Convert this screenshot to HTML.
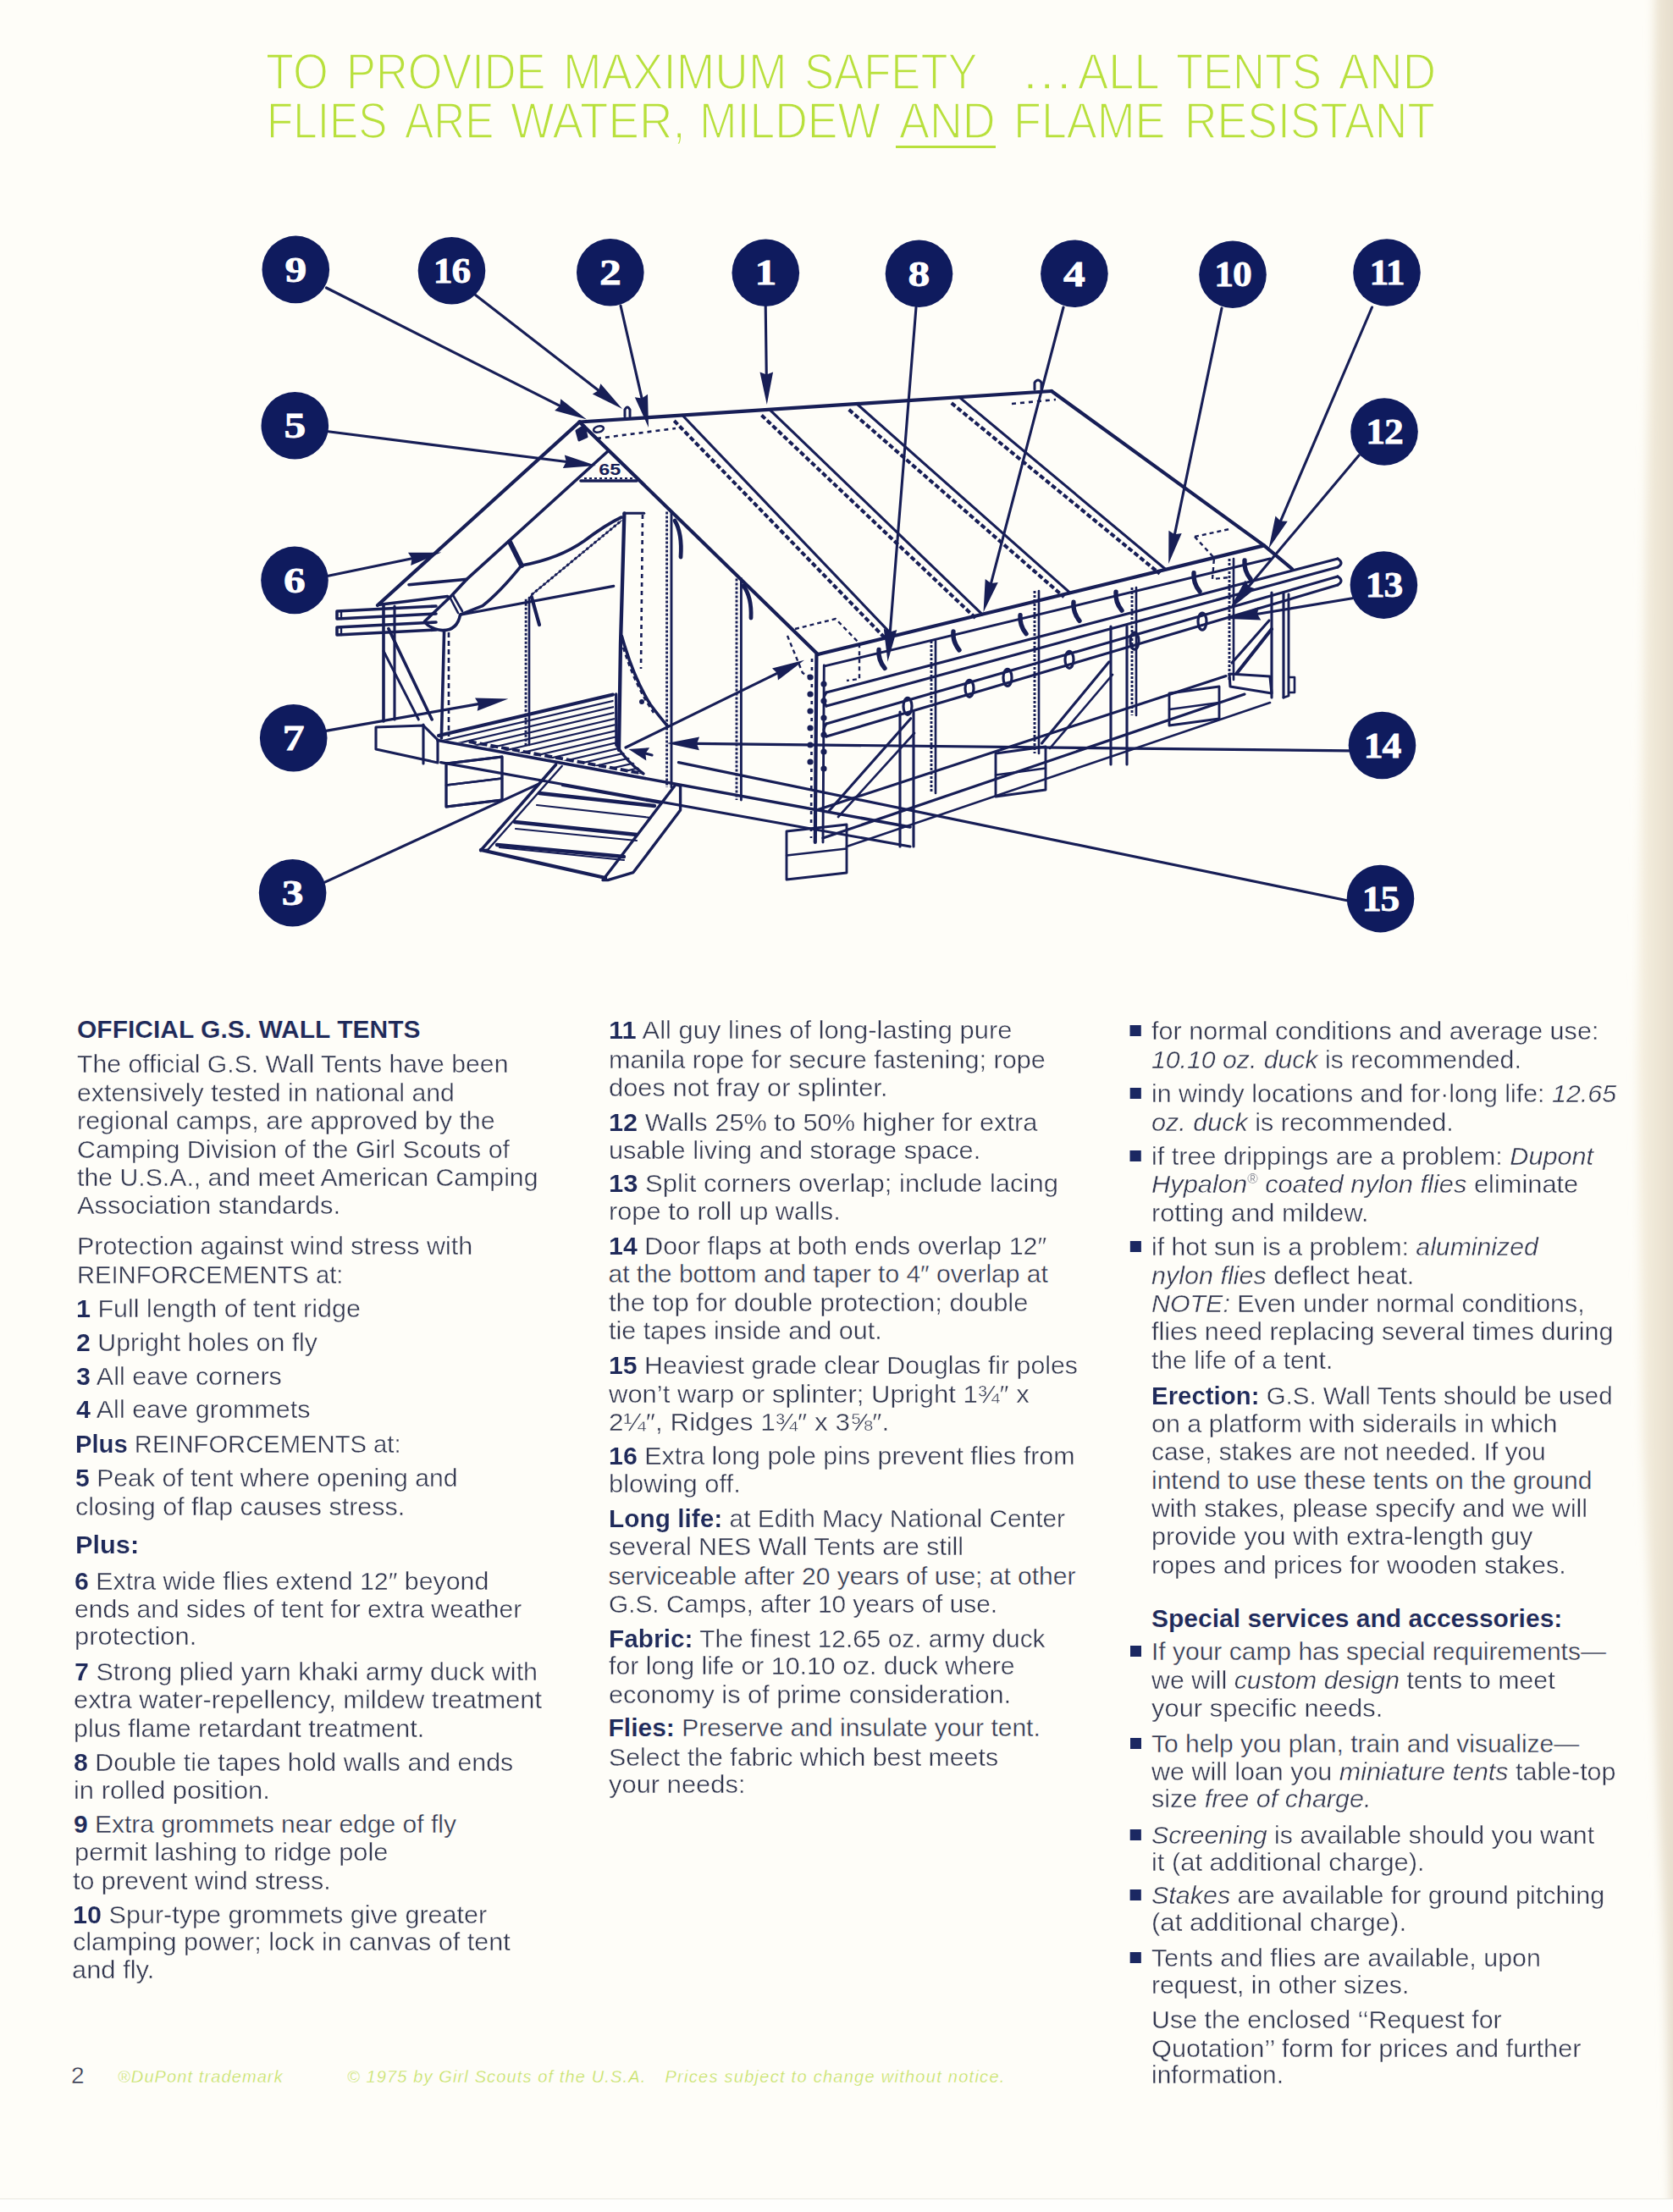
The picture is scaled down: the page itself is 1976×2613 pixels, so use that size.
<!DOCTYPE html>
<html><head><meta charset="utf-8"><style>
html,body{margin:0;padding:0;overflow:hidden}
body{width:1976px;height:2613px;background:#fefdf8;position:relative;overflow:hidden;font-family:"Liberation Sans",sans-serif}
.hw{position:absolute;font-size:58.5px;line-height:0;color:#b8e03c;-webkit-text-stroke:1.7px #fefdf8;paint-order:normal;transform-origin:0 0;white-space:pre}
.ln{position:absolute;transform-origin:0 0;font-size:30px;line-height:30px;color:#32374f;-webkit-text-stroke:0.4px #fefdf8;white-space:pre}
.ln b{color:#1f2a5a;-webkit-text-stroke:0.15px #fefdf8}
.bul{position:absolute;left:-25px;top:8px;width:13px;height:13px;background:#1b2862}
.fr{font-size:0.55em;vertical-align:0.35em}
sup{font-size:0.55em;line-height:0}
#ul{position:absolute;left:1058px;top:171.5px;width:118px;height:3px;background:#b8e03c}
#bot{position:absolute;left:0;top:2597px;width:1976px;height:16px;background:#fefefc;border-top:1.5px solid #e9e9e0}
.ft{position:absolute;font-style:italic;color:#c3e05e;font-size:20px;line-height:20px;white-space:pre;-webkit-text-stroke:0.35px #fefdf8}
svg{position:absolute;left:0;top:0}
</style></head><body>
<span class="hw" style="left:314.3px;top:84.5px;transform:scaleX(0.9207)">TO</span>
<span class="hw" style="left:409.4px;top:84.5px;transform:scaleX(0.8943)">PROVIDE</span>
<span class="hw" style="left:664.5px;top:84.5px;transform:scaleX(0.9354)">MAXIMUM</span>
<span class="hw" style="left:949.7px;top:84.5px;transform:scaleX(0.8992)">SAFETY</span>
<span class="hw" style="left:1206.9px;top:84.5px;transform:scaleX(1.2206)">...</span>
<span class="hw" style="left:1273.0px;top:84.5px;transform:scaleX(0.9283)">ALL</span>
<span class="hw" style="left:1389.3px;top:84.5px;transform:scaleX(0.8976)">TENTS</span>
<span class="hw" style="left:1580.7px;top:84.5px;transform:scaleX(0.9318)">AND</span>
<span class="hw" style="left:315.3px;top:143.0px;transform:scaleX(0.8758)">FLIES</span>
<span class="hw" style="left:477.8px;top:143.0px;transform:scaleX(0.8760)">ARE</span>
<span class="hw" style="left:603.3px;top:143.0px;transform:scaleX(0.9350)">WATER,</span>
<span class="hw" style="left:825.6px;top:143.0px;transform:scaleX(0.9147)">MILDEW</span>
<span class="hw" style="left:1062.4px;top:143.0px;transform:scaleX(0.9195)">AND</span>
<span class="hw" style="left:1196.8px;top:143.0px;transform:scaleX(0.9205)">FLAME</span>
<span class="hw" style="left:1399.0px;top:143.0px;transform:scaleX(0.9135)">RESISTANT</span>
<div id="ul"></div>
<svg width="1976" height="1200" viewBox="0 0 1976 1200">
<polyline points="684.5,498.5 1242.0,462.0" fill="none" stroke="#171e56" stroke-width="4.2" stroke-linejoin="round" stroke-linecap="round"/>
<polyline points="684.5,498.5 966.0,773.0" fill="none" stroke="#171e56" stroke-width="4.2" stroke-linejoin="round" stroke-linecap="round"/>
<polyline points="1242.0,462.0 1493.0,644.4 1526.0,672.0" fill="none" stroke="#171e56" stroke-width="4.2" stroke-linejoin="round" stroke-linecap="round"/>
<polyline points="966.0,773.0 1493.0,644.4" fill="none" stroke="#171e56" stroke-width="4.2" stroke-linejoin="round" stroke-linecap="round"/>
<polyline points="806.0,490.5 1055.0,751.3" fill="none" stroke="#171e56" stroke-width="3.12" stroke-linejoin="round" stroke-linecap="round"/>
<polyline points="796.3,497.0 1047.3,755.8" fill="none" stroke="#171e56" stroke-width="4.08" stroke-linejoin="round" stroke-linecap="butt" stroke-dasharray="6 3"/>
<polyline points="909.0,483.8 1160.0,725.7" fill="none" stroke="#171e56" stroke-width="3.12" stroke-linejoin="round" stroke-linecap="round"/>
<polyline points="899.5,490.5 1152.5,730.3" fill="none" stroke="#171e56" stroke-width="4.08" stroke-linejoin="round" stroke-linecap="butt" stroke-dasharray="6 3"/>
<polyline points="1012.0,477.1 1264.0,700.3" fill="none" stroke="#171e56" stroke-width="3.12" stroke-linejoin="round" stroke-linecap="round"/>
<polyline points="1002.7,483.9 1256.7,705.2" fill="none" stroke="#171e56" stroke-width="4.08" stroke-linejoin="round" stroke-linecap="butt" stroke-dasharray="6 3"/>
<polyline points="1133.0,469.1 1377.0,672.7" fill="none" stroke="#171e56" stroke-width="3.12" stroke-linejoin="round" stroke-linecap="round"/>
<polyline points="1123.8,476.1 1369.8,677.7" fill="none" stroke="#171e56" stroke-width="4.08" stroke-linejoin="round" stroke-linecap="butt" stroke-dasharray="6 3"/>
<polyline points="939.0,743.0 987.0,731.0 1015.0,760.0 1015.0,802.0 1000.0,804.0" fill="none" stroke="#171e56" stroke-width="2.4" stroke-linejoin="round" stroke-linecap="butt" stroke-dasharray="5 4"/>
<polyline points="930.0,751.0 948.0,795.0 958.0,800.0" fill="none" stroke="#171e56" stroke-width="2.4" stroke-linejoin="round" stroke-linecap="butt" stroke-dasharray="5 4"/>
<polyline points="1411.0,634.0 1452.0,625.0" fill="none" stroke="#171e56" stroke-width="2.4" stroke-linejoin="round" stroke-linecap="butt" stroke-dasharray="5 4"/>
<polyline points="1411.0,634.0 1434.0,659.0 1432.0,684.0 1452.0,682.0" fill="none" stroke="#171e56" stroke-width="2.4" stroke-linejoin="round" stroke-linecap="butt" stroke-dasharray="5 4"/>
<polyline points="684.5,498.5 446.0,715.0" fill="none" stroke="#171e56" stroke-width="4.2" stroke-linejoin="round" stroke-linecap="round"/>
<polyline points="483.0,690.7 551.5,684.2" fill="none" stroke="#171e56" stroke-width="3.6" stroke-linejoin="round" stroke-linecap="round"/>
<polyline points="718.0,533.0 552.8,682.8 533.0,704.0 501.6,734.0" fill="none" stroke="#171e56" stroke-width="3.6" stroke-linejoin="round" stroke-linecap="round"/>
<polyline points="686.0,568.0 752.0,568.0" fill="none" stroke="#171e56" stroke-width="3.6" stroke-linejoin="round" stroke-linecap="round"/>
<polyline points="690.0,565.0 748.0,565.0" fill="none" stroke="#171e56" stroke-width="1.8" stroke-linejoin="round" stroke-linecap="butt" stroke-dasharray="3 3"/>
<text x="707" y="561" font-family="Liberation Sans" font-weight="bold" font-size="18" fill="#171e56" transform="translate(706 0) scale(1.3 1) translate(-706 0)">65</text>
<path d="M 681 509 L 690 503 L 693 516 L 684 520 Z" fill="#171e56" stroke="#171e56" stroke-width="3.0" stroke-linejoin="round" stroke-linecap="round"/>
<ellipse cx="707" cy="507" rx="6" ry="3.5" fill="none" stroke="#171e56" stroke-width="2.5" transform="rotate(-15 707 507)"/>
<path d="M 738 492 L 738 484 Q 741 478 744 484 L 744 492" fill="none" stroke="#171e56" stroke-width="3.0" stroke-linejoin="round" stroke-linecap="round"/>
<path d="M 1222 460 L 1222 452 Q 1226 446 1230 452 L 1230 460" fill="none" stroke="#171e56" stroke-width="3.0" stroke-linejoin="round" stroke-linecap="round"/>
<polyline points="705.0,518.0 798.0,506.0" fill="none" stroke="#171e56" stroke-width="2.64" stroke-linejoin="round" stroke-linecap="butt" stroke-dasharray="5 5"/>
<polyline points="1195.0,477.0 1247.0,472.0" fill="none" stroke="#171e56" stroke-width="2.64" stroke-linejoin="round" stroke-linecap="butt" stroke-dasharray="5 5"/>
<path d="M 614.6 669.7 Q 590 700 570 715.7 L 543.6 726.2" fill="none" stroke="#171e56" stroke-width="3.6" stroke-linejoin="round" stroke-linecap="round"/>
<path d="M 543.6 726.2 Q 540 745 522.6 744.6 Q 508 743 501.6 735" fill="none" stroke="#171e56" stroke-width="3.6" stroke-linejoin="round" stroke-linecap="round"/>
<polyline points="602.0,640.0 616.0,668.0" fill="none" stroke="#171e56" stroke-width="6.0" stroke-linejoin="round" stroke-linecap="round"/>
<polyline points="531.0,705.0 541.0,724.0" fill="none" stroke="#171e56" stroke-width="2.64" stroke-linejoin="round" stroke-linecap="round"/>
<polyline points="535.0,703.0 546.0,722.0" fill="none" stroke="#171e56" stroke-width="2.64" stroke-linejoin="round" stroke-linecap="round"/>
<path d="M 616 668 Q 660 660 690 639 Q 715 620 734 611" fill="none" stroke="#171e56" stroke-width="3.6" stroke-linejoin="round" stroke-linecap="round"/>
<polyline points="627.8,702.6 734.0,615.0" fill="none" stroke="#171e56" stroke-width="3.0" stroke-linejoin="round" stroke-linecap="butt" stroke-dasharray="3 3"/>
<polyline points="627.8,702.6 734.0,615.0" fill="none" stroke="#171e56" stroke-width="1.44" stroke-linejoin="round" stroke-linecap="round"/>
<polyline points="543.6,726.2 724.8,692.4" fill="none" stroke="#171e56" stroke-width="3.12" stroke-linejoin="round" stroke-linecap="round"/>
<polyline points="448.4,714.3 528.6,704.5" fill="none" stroke="#171e56" stroke-width="3.6" stroke-linejoin="round" stroke-linecap="round"/>
<path d="M 515 716 L 398 722 L 398 731 L 515 725" fill="none" stroke="#171e56" stroke-width="3.6" stroke-linejoin="round" stroke-linecap="round"/>
<polyline points="403.0,722.0 403.0,731.0" fill="none" stroke="#171e56" stroke-width="2.4" stroke-linejoin="round" stroke-linecap="round"/>
<path d="M 515 735 L 398 741 L 398 750 L 515 744" fill="none" stroke="#171e56" stroke-width="3.6" stroke-linejoin="round" stroke-linecap="round"/>
<polyline points="403.0,741.0 403.0,750.0" fill="none" stroke="#171e56" stroke-width="2.4" stroke-linejoin="round" stroke-linecap="round"/>
<polyline points="453.0,715.0 453.0,852.0" fill="none" stroke="#171e56" stroke-width="3.6" stroke-linejoin="round" stroke-linecap="round"/>
<polyline points="466.0,716.0 466.0,850.0" fill="none" stroke="#171e56" stroke-width="3.12" stroke-linejoin="round" stroke-linecap="round"/>
<polyline points="458.9,742.6 510.2,850.0" fill="none" stroke="#171e56" stroke-width="3.6" stroke-linejoin="round" stroke-linecap="round"/>
<polyline points="453.0,769.0 494.4,850.0" fill="none" stroke="#171e56" stroke-width="2.88" stroke-linejoin="round" stroke-linecap="round"/>
<polyline points="524.6,745.0 521.4,872.0" fill="none" stroke="#171e56" stroke-width="3.6" stroke-linejoin="round" stroke-linecap="round"/>
<polyline points="530.0,747.0 530.0,870.0" fill="none" stroke="#171e56" stroke-width="2.64" stroke-linejoin="round" stroke-linecap="butt" stroke-dasharray="6 4"/>
<polyline points="621.2,707.8 621.0,880.0" fill="none" stroke="#171e56" stroke-width="2.88" stroke-linejoin="round" stroke-linecap="butt" stroke-dasharray="3 2"/>
<polyline points="625.0,706.0 625.0,880.0" fill="none" stroke="#171e56" stroke-width="2.64" stroke-linejoin="round" stroke-linecap="round"/>
<polyline points="627.8,705.0 637.0,738.0" fill="none" stroke="#171e56" stroke-width="4.2" stroke-linejoin="round" stroke-linecap="round"/>
<polyline points="737.4,606.3 733.0,760.0 731.0,886.0" fill="none" stroke="#171e56" stroke-width="4.32" stroke-linejoin="round" stroke-linecap="round"/>
<polyline points="737.4,606.3 760.7,606.3" fill="none" stroke="#171e56" stroke-width="3.12" stroke-linejoin="round" stroke-linecap="round"/>
<polyline points="759.0,608.0 757.0,790.0" fill="none" stroke="#171e56" stroke-width="2.64" stroke-linejoin="round" stroke-linecap="butt" stroke-dasharray="5 5"/>
<polyline points="787.6,604.5 787.6,930.0" fill="none" stroke="#171e56" stroke-width="2.88" stroke-linejoin="round" stroke-linecap="butt" stroke-dasharray="3 2"/>
<polyline points="793.0,604.5 793.0,930.0" fill="none" stroke="#171e56" stroke-width="2.88" stroke-linejoin="round" stroke-linecap="round"/>
<path d="M 797 615 Q 806 630 804 658" fill="none" stroke="#171e56" stroke-width="4.8" stroke-linejoin="round" stroke-linecap="round"/>
<polyline points="870.0,683.4 870.0,945.0" fill="none" stroke="#171e56" stroke-width="2.88" stroke-linejoin="round" stroke-linecap="butt" stroke-dasharray="3 2"/>
<polyline points="875.4,683.4 875.4,945.0" fill="none" stroke="#171e56" stroke-width="2.88" stroke-linejoin="round" stroke-linecap="round"/>
<path d="M 878 692 Q 888 705 887 730" fill="none" stroke="#171e56" stroke-width="4.8" stroke-linejoin="round" stroke-linecap="round"/>
<polyline points="964.4,773.0 962.8,995.0" fill="none" stroke="#171e56" stroke-width="4.2" stroke-linejoin="round" stroke-linecap="round"/>
<polyline points="973.3,786.0 972.0,995.0" fill="none" stroke="#171e56" stroke-width="2.88" stroke-linejoin="round" stroke-linecap="round"/>
<polyline points="959.0,778.0 958.0,990.0" fill="none" stroke="#171e56" stroke-width="2.64" stroke-linejoin="round" stroke-linecap="butt" stroke-dasharray="4 6"/>
<polyline points="974.8,786.7 1500.0,660.0" fill="none" stroke="#171e56" stroke-width="2.88" stroke-linejoin="round" stroke-linecap="round"/>
<polyline points="976.0,818.0 1580.0,660.0" fill="none" stroke="#171e56" stroke-width="3.12" stroke-linejoin="round" stroke-linecap="round"/>
<polyline points="976.0,834.0 1580.0,670.0" fill="none" stroke="#171e56" stroke-width="3.12" stroke-linejoin="round" stroke-linecap="round"/>
<path d="M 1580 660 Q 1588 665.0 1580 670" fill="none" stroke="#171e56" stroke-width="3.12" stroke-linejoin="round" stroke-linecap="round"/>
<path d="M 976 818 Q 970 826.0 976 834" fill="none" stroke="#171e56" stroke-width="3.12" stroke-linejoin="round" stroke-linecap="round"/>
<polyline points="976.0,855.0 1580.0,681.0" fill="none" stroke="#171e56" stroke-width="3.12" stroke-linejoin="round" stroke-linecap="round"/>
<polyline points="976.0,870.0 1580.0,691.0" fill="none" stroke="#171e56" stroke-width="3.12" stroke-linejoin="round" stroke-linecap="round"/>
<path d="M 1580 681 Q 1588 686.0 1580 691" fill="none" stroke="#171e56" stroke-width="3.12" stroke-linejoin="round" stroke-linecap="round"/>
<path d="M 976 855 Q 970 862.5 976 870" fill="none" stroke="#171e56" stroke-width="3.12" stroke-linejoin="round" stroke-linecap="round"/>
<path d="M 1038 767.432 Q 1037 779.432 1045 789.432" fill="none" stroke="#171e56" stroke-width="5.4" stroke-linejoin="round" stroke-linecap="round"/>
<path d="M 1126 745.96 Q 1125 757.96 1133 767.96" fill="none" stroke="#171e56" stroke-width="5.4" stroke-linejoin="round" stroke-linecap="round"/>
<path d="M 1205 726.684 Q 1204 738.684 1212 748.684" fill="none" stroke="#171e56" stroke-width="5.4" stroke-linejoin="round" stroke-linecap="round"/>
<path d="M 1268 711.312 Q 1267 723.312 1275 733.312" fill="none" stroke="#171e56" stroke-width="5.4" stroke-linejoin="round" stroke-linecap="round"/>
<path d="M 1318 699.112 Q 1317 711.112 1325 721.112" fill="none" stroke="#171e56" stroke-width="5.4" stroke-linejoin="round" stroke-linecap="round"/>
<path d="M 1410 676.664 Q 1409 688.664 1417 698.664" fill="none" stroke="#171e56" stroke-width="5.4" stroke-linejoin="round" stroke-linecap="round"/>
<path d="M 1470 662.024 Q 1469 674.024 1477 684.024" fill="none" stroke="#171e56" stroke-width="5.4" stroke-linejoin="round" stroke-linecap="round"/>
<ellipse cx="1072" cy="834.3" rx="5" ry="10" fill="none" stroke="#171e56" stroke-width="3.2"/>
<ellipse cx="1145" cy="813.3" rx="5" ry="10" fill="none" stroke="#171e56" stroke-width="3.2"/>
<ellipse cx="1190" cy="800.4" rx="5" ry="10" fill="none" stroke="#171e56" stroke-width="3.2"/>
<ellipse cx="1263" cy="779.3" rx="5" ry="10" fill="none" stroke="#171e56" stroke-width="3.2"/>
<ellipse cx="1340" cy="757.1" rx="5" ry="10" fill="none" stroke="#171e56" stroke-width="3.2"/>
<ellipse cx="1420" cy="734.1" rx="5" ry="10" fill="none" stroke="#171e56" stroke-width="3.2"/>
<circle cx="957" cy="800" r="3.6" fill="#171e56"/>
<circle cx="973" cy="808" r="3.6" fill="#171e56"/>
<circle cx="957" cy="820" r="3.6" fill="#171e56"/>
<circle cx="973" cy="828" r="3.6" fill="#171e56"/>
<circle cx="957" cy="840" r="3.6" fill="#171e56"/>
<circle cx="973" cy="848" r="3.6" fill="#171e56"/>
<circle cx="957" cy="860" r="3.6" fill="#171e56"/>
<circle cx="973" cy="868" r="3.6" fill="#171e56"/>
<circle cx="957" cy="880" r="3.6" fill="#171e56"/>
<circle cx="973" cy="888" r="3.6" fill="#171e56"/>
<circle cx="957" cy="900" r="3.6" fill="#171e56"/>
<circle cx="973" cy="908" r="3.6" fill="#171e56"/>
<polyline points="1100.0,757.0 1100.0,937.0" fill="none" stroke="#171e56" stroke-width="2.88" stroke-linejoin="round" stroke-linecap="butt" stroke-dasharray="3 2"/>
<polyline points="1105.0,757.0 1105.0,937.0" fill="none" stroke="#171e56" stroke-width="2.64" stroke-linejoin="round" stroke-linecap="round"/>
<polyline points="1222.0,698.0 1222.0,890.0" fill="none" stroke="#171e56" stroke-width="2.88" stroke-linejoin="round" stroke-linecap="butt" stroke-dasharray="3 2"/>
<polyline points="1227.0,698.0 1227.0,890.0" fill="none" stroke="#171e56" stroke-width="2.64" stroke-linejoin="round" stroke-linecap="round"/>
<polyline points="1337.0,694.0 1337.0,845.0" fill="none" stroke="#171e56" stroke-width="2.88" stroke-linejoin="round" stroke-linecap="butt" stroke-dasharray="3 2"/>
<polyline points="1342.0,694.0 1342.0,845.0" fill="none" stroke="#171e56" stroke-width="2.64" stroke-linejoin="round" stroke-linecap="round"/>
<polyline points="1452.0,660.0 1452.0,803.0" fill="none" stroke="#171e56" stroke-width="2.88" stroke-linejoin="round" stroke-linecap="butt" stroke-dasharray="3 2"/>
<polyline points="1457.0,660.0 1457.0,803.0" fill="none" stroke="#171e56" stroke-width="2.64" stroke-linejoin="round" stroke-linecap="round"/>
<polyline points="1063.0,841.0 1063.0,1000.0" fill="none" stroke="#171e56" stroke-width="3.12" stroke-linejoin="round" stroke-linecap="round"/>
<polyline points="1079.0,841.0 1079.0,1000.0" fill="none" stroke="#171e56" stroke-width="3.12" stroke-linejoin="round" stroke-linecap="round"/>
<polyline points="1312.0,740.0 1312.0,903.0" fill="none" stroke="#171e56" stroke-width="3.12" stroke-linejoin="round" stroke-linecap="round"/>
<polyline points="1331.0,740.0 1331.0,903.0" fill="none" stroke="#171e56" stroke-width="3.12" stroke-linejoin="round" stroke-linecap="round"/>
<polyline points="1502.0,700.0 1502.0,824.0" fill="none" stroke="#171e56" stroke-width="3.12" stroke-linejoin="round" stroke-linecap="round"/>
<polyline points="1516.0,700.0 1516.0,824.0" fill="none" stroke="#171e56" stroke-width="3.12" stroke-linejoin="round" stroke-linecap="round"/>
<polyline points="962.8,957.5 1448.0,798.5" fill="none" stroke="#171e56" stroke-width="3.12" stroke-linejoin="round" stroke-linecap="round"/>
<polyline points="972.0,990.0 1470.0,820.0" fill="none" stroke="#171e56" stroke-width="3.12" stroke-linejoin="round" stroke-linecap="round"/>
<polyline points="1000.0,1000.0 1500.0,830.0" fill="none" stroke="#171e56" stroke-width="2.64" stroke-linejoin="round" stroke-linecap="round"/>
<polyline points="979.5,957.5 1075.7,848.7" fill="none" stroke="#171e56" stroke-width="3.12" stroke-linejoin="round" stroke-linecap="round"/>
<polyline points="990.0,965.0 1080.0,866.0" fill="none" stroke="#171e56" stroke-width="2.64" stroke-linejoin="round" stroke-linecap="round"/>
<polyline points="1230.5,878.0 1310.0,781.8" fill="none" stroke="#171e56" stroke-width="3.12" stroke-linejoin="round" stroke-linecap="round"/>
<polyline points="1240.0,884.0 1314.0,797.0" fill="none" stroke="#171e56" stroke-width="2.64" stroke-linejoin="round" stroke-linecap="round"/>
<polyline points="1455.0,783.0 1499.0,733.0" fill="none" stroke="#171e56" stroke-width="3.12" stroke-linejoin="round" stroke-linecap="round"/>
<polyline points="1461.0,795.0 1502.0,743.0" fill="none" stroke="#171e56" stroke-width="4.08" stroke-linejoin="round" stroke-linecap="round"/>
<polyline points="1522.0,702.0 1522.0,822.0 1516.0,824.0" fill="none" stroke="#171e56" stroke-width="2.88" stroke-linejoin="round" stroke-linecap="round"/>
<path d="M 1452 796 L 1500 799 L 1502 819 L 1453 811 Z" fill="none" stroke="#171e56" stroke-width="3.12" stroke-linejoin="round" stroke-linecap="round"/>
<path d="M 1523 800 L 1529 800 L 1529 818 L 1523 818" fill="none" stroke="#171e56" stroke-width="2.64" stroke-linejoin="round" stroke-linecap="round"/>
<path d="M 929 982 L 1000 974 L 1000 1031 L 929 1039 Z" fill="none" stroke="#171e56" stroke-width="2.88" stroke-linejoin="round" stroke-linecap="round"/>
<polyline points="929.0,1010.5 1000.0,1002.5" fill="none" stroke="#171e56" stroke-width="2.4" stroke-linejoin="round" stroke-linecap="round"/>
<path d="M 1176 890 L 1235 882 L 1235 933 L 1176 941 Z" fill="none" stroke="#171e56" stroke-width="2.88" stroke-linejoin="round" stroke-linecap="round"/>
<polyline points="1176.0,915.5 1235.0,907.5" fill="none" stroke="#171e56" stroke-width="2.4" stroke-linejoin="round" stroke-linecap="round"/>
<path d="M 1381 819 L 1440 811 L 1440 849 L 1381 857 Z" fill="none" stroke="#171e56" stroke-width="2.88" stroke-linejoin="round" stroke-linecap="round"/>
<polyline points="1381.0,838.0 1440.0,830.0" fill="none" stroke="#171e56" stroke-width="2.4" stroke-linejoin="round" stroke-linecap="round"/>
<path d="M 527 902 L 593 894 L 593 945 L 527 953 Z" fill="none" stroke="#171e56" stroke-width="2.88" stroke-linejoin="round" stroke-linecap="round"/>
<polyline points="527.0,927.5 593.0,919.5" fill="none" stroke="#171e56" stroke-width="2.4" stroke-linejoin="round" stroke-linecap="round"/>
<path d="M 444 859 L 500 857 L 517 874 L 517 901 L 444 885 Z" fill="none" stroke="#171e56" stroke-width="3.12" stroke-linejoin="round" stroke-linecap="round"/>
<polyline points="500.0,856.0 500.0,902.0" fill="none" stroke="#171e56" stroke-width="3.12" stroke-linejoin="round" stroke-linecap="round"/>
<polyline points="517.0,874.5 1075.0,977.0" fill="none" stroke="#171e56" stroke-width="3.6" stroke-linejoin="round" stroke-linecap="round"/>
<polyline points="520.6,900.6 1075.0,1000.0" fill="none" stroke="#171e56" stroke-width="3.12" stroke-linejoin="round" stroke-linecap="round"/>
<clipPath id="fl"><polygon points="518,870 724,820.5 728,880 762,915 518,873"/></clipPath>
<polyline points="518.0,869.0 724.0,820.5" fill="none" stroke="#171e56" stroke-width="4.08" stroke-linejoin="round" stroke-linecap="round"/>
<g clip-path="url(#fl)" stroke="#171e56" stroke-width="2.2"><line x1="500" y1="880.4" x2="800" y2="810.2" /><line x1="500" y1="887.6" x2="800" y2="817.4" /><line x1="500" y1="894.8" x2="800" y2="824.6" /><line x1="500" y1="902.0" x2="800" y2="831.8" /><line x1="500" y1="909.2" x2="800" y2="839.0" /><line x1="500" y1="916.4" x2="800" y2="846.2" /><line x1="500" y1="923.6" x2="800" y2="853.4" /><line x1="500" y1="930.8" x2="800" y2="860.6" /><line x1="500" y1="938.0" x2="800" y2="867.8" /><line x1="500" y1="945.2" x2="800" y2="875.0" /><line x1="500" y1="952.4" x2="800" y2="882.2" /><line x1="500" y1="959.6" x2="800" y2="889.4" /><line x1="500" y1="966.8" x2="800" y2="896.6" /><line x1="500" y1="974.0" x2="800" y2="903.8" /><line x1="500" y1="981.2" x2="800" y2="911.0" /></g>
<polyline points="553.8,876.0 754.6,913.0" fill="none" stroke="#171e56" stroke-width="3.84" stroke-linejoin="round" stroke-linecap="butt" stroke-dasharray="9 4"/>
<polyline points="727.7,820.0 728.0,880.0" fill="none" stroke="#171e56" stroke-width="3.36" stroke-linejoin="round" stroke-linecap="round"/>
<path d="M 734.5 751.7 Q 748 800 768 832 Q 780 848 788.3 857.5" fill="none" stroke="#171e56" stroke-width="3.6" stroke-linejoin="round" stroke-linecap="round"/>
<path d="M 736 765 Q 750 810 772 842" fill="none" stroke="#171e56" stroke-width="2.4" stroke-linejoin="round" stroke-linecap="butt" stroke-dasharray="5 4"/>
<circle cx="758" cy="829" r="3" fill="#171e56"/>
<path d="M 728 880 Q 740 900 760 914" fill="none" stroke="#171e56" stroke-width="3.36" stroke-linejoin="round" stroke-linecap="round"/>
<polyline points="656.6,903.3 567.8,1004.6" fill="none" stroke="#171e56" stroke-width="3.6" stroke-linejoin="round" stroke-linecap="round"/>
<polyline points="663.7,905.0 576.0,1004.0" fill="none" stroke="#171e56" stroke-width="2.4" stroke-linejoin="round" stroke-linecap="round"/>
<polyline points="567.8,1004.6 576.0,1004.0" fill="none" stroke="#171e56" stroke-width="2.88" stroke-linejoin="round" stroke-linecap="round"/>
<path d="M 798.2 926.6 L 712.1 1039.6 L 718 1039.6 L 748 1030.6 L 803.6 957.1 L 803.6 928.4 Z" fill="none" stroke="#171e56" stroke-width="3.36" stroke-linejoin="round" stroke-linecap="round"/>
<polyline points="664.0,928.0 781.0,949.0" fill="none" stroke="#171e56" stroke-width="2.16" stroke-linejoin="round" stroke-linecap="round"/>
<polyline points="637.0,937.0 773.0,952.0" fill="none" stroke="#171e56" stroke-width="4.32" stroke-linejoin="round" stroke-linecap="round"/>
<polyline points="634.0,951.0 769.0,966.0" fill="none" stroke="#171e56" stroke-width="2.16" stroke-linejoin="round" stroke-linecap="round"/>
<polyline points="608.0,971.0 752.0,986.0" fill="none" stroke="#171e56" stroke-width="4.32" stroke-linejoin="round" stroke-linecap="round"/>
<polyline points="609.0,979.0 752.0,993.0" fill="none" stroke="#171e56" stroke-width="2.16" stroke-linejoin="round" stroke-linecap="round"/>
<polyline points="587.0,998.0 737.0,1012.0" fill="none" stroke="#171e56" stroke-width="4.32" stroke-linejoin="round" stroke-linecap="round"/>
<polyline points="590.0,1001.0 737.0,1016.0" fill="none" stroke="#171e56" stroke-width="2.16" stroke-linejoin="round" stroke-linecap="round"/>
<polyline points="568.0,1004.0 715.0,1037.0" fill="none" stroke="#171e56" stroke-width="4.32" stroke-linejoin="round" stroke-linecap="round"/>
<path d="M 527 902 L 593 894 L 593 945 L 527 953 Z" fill="none" stroke="#171e56" stroke-width="2.88" stroke-linejoin="round" stroke-linecap="round"/>
<polyline points="527.0,927.5 593.0,919.5" fill="none" stroke="#171e56" stroke-width="2.4" stroke-linejoin="round" stroke-linecap="round"/>
<polyline points="385.5,340.0 663.6,480.6" fill="none" stroke="#171e56" stroke-width="3.12" stroke-linejoin="round" stroke-linecap="round"/>
<polygon points="693.0,495.5 655.1,485.1 661.3,479.5 662.2,471.2" fill="#171e56"/>
<polyline points="561.6,348.5 708.9,462.8" fill="none" stroke="#171e56" stroke-width="3.12" stroke-linejoin="round" stroke-linecap="round"/>
<polygon points="735.0,483.0 699.8,465.6 706.9,461.2 709.4,453.2" fill="#171e56"/>
<polyline points="733.0,361.0 758.6,472.8" fill="none" stroke="#171e56" stroke-width="3.12" stroke-linejoin="round" stroke-linecap="round"/>
<polygon points="766.0,505.0 749.8,469.2 758.1,470.4 765.0,465.7" fill="#171e56"/>
<polyline points="904.2,362.0 905.3,445.0" fill="none" stroke="#171e56" stroke-width="3.12" stroke-linejoin="round" stroke-linecap="round"/>
<polygon points="905.8,478.0 897.5,439.6 905.3,442.5 913.1,439.4" fill="#171e56"/>
<polyline points="1082.0,363.0 1051.1,748.9" fill="none" stroke="#171e56" stroke-width="3.12" stroke-linejoin="round" stroke-linecap="round"/>
<polygon points="1048.5,781.8 1043.8,742.8 1051.3,746.4 1059.3,744.0" fill="#171e56"/>
<polyline points="1256.0,363.0 1169.9,691.3" fill="none" stroke="#171e56" stroke-width="3.12" stroke-linejoin="round" stroke-linecap="round"/>
<polygon points="1161.5,723.2 1163.7,684.0 1170.5,688.9 1178.8,687.9" fill="#171e56"/>
<polyline points="1443.0,364.0 1386.9,633.8" fill="none" stroke="#171e56" stroke-width="3.12" stroke-linejoin="round" stroke-linecap="round"/>
<polygon points="1380.2,666.1 1380.4,626.8 1387.4,631.3 1395.7,630.0" fill="#171e56"/>
<polyline points="1620.5,363.0 1511.5,617.8" fill="none" stroke="#171e56" stroke-width="3.12" stroke-linejoin="round" stroke-linecap="round"/>
<polygon points="1498.5,648.1 1506.5,609.6 1512.5,615.5 1520.8,615.8" fill="#171e56"/>
<polyline points="1605.0,538.0 1473.2,694.7" fill="none" stroke="#171e56" stroke-width="3.12" stroke-linejoin="round" stroke-linecap="round"/>
<polygon points="1452.0,720.0 1470.8,685.5 1474.8,692.8 1482.7,695.5" fill="#171e56"/>
<polyline points="1597.3,706.8 1482.6,725.7" fill="none" stroke="#171e56" stroke-width="3.12" stroke-linejoin="round" stroke-linecap="round"/>
<polygon points="1450.0,731.0 1486.7,717.1 1485.0,725.2 1489.3,732.5" fill="#171e56"/>
<polyline points="387.6,509.8 671.3,545.8" fill="none" stroke="#171e56" stroke-width="3.12" stroke-linejoin="round" stroke-linecap="round"/>
<polygon points="704.0,550.0 664.8,552.9 668.8,545.5 666.8,537.4" fill="#171e56"/>
<polyline points="387.7,680.2 489.0,659.3" fill="none" stroke="#171e56" stroke-width="3.12" stroke-linejoin="round" stroke-linecap="round"/>
<polygon points="521.3,652.6 485.2,668.0 486.5,659.8 482.0,652.8" fill="#171e56"/>
<polyline points="385.0,863.4 567.8,831.1" fill="none" stroke="#171e56" stroke-width="3.12" stroke-linejoin="round" stroke-linecap="round"/>
<polygon points="600.3,825.4 563.7,839.8 565.3,831.6 561.0,824.4" fill="#171e56"/>
<polyline points="383.7,1042.1 635.0,926.6" fill="none" stroke="#171e56" stroke-width="3.12" stroke-linejoin="round" stroke-linecap="round"/>
<polyline points="1593.0,886.9 820.5,878.4" fill="none" stroke="#171e56" stroke-width="3.12" stroke-linejoin="round" stroke-linecap="round"/>
<polygon points="787.5,878.0 826.1,870.6 823.0,878.4 825.9,886.2" fill="#171e56"/>
<polyline points="770.0,892.0 759.9,889.4" fill="none" stroke="#171e56" stroke-width="3.12" stroke-linejoin="round" stroke-linecap="round"/>
<polygon points="742.5,885.0 767.2,883.2 762.4,890.1 763.3,898.4" fill="#171e56"/>
<polyline points="739.0,883.0 920.4,794.2" fill="none" stroke="#171e56" stroke-width="3.12" stroke-linejoin="round" stroke-linecap="round"/>
<polygon points="950.0,779.7 918.9,803.6 918.1,795.3 912.0,789.6" fill="#171e56"/>
<polyline points="1591.0,1063.8 801.4,900.6" fill="none" stroke="#171e56" stroke-width="3.12" stroke-linejoin="round" stroke-linecap="round"/>
<circle cx="349.3" cy="318.4" r="39.8" fill="#0f1b5e"/>
<text x="349.3" y="332.7" text-anchor="middle" font-family="Liberation Serif" font-weight="bold" font-size="43" fill="#fff" stroke="#fff" stroke-width="0.8" transform="translate(349.3 0) scale(1.2 1) translate(-349.3 0)">9</text>
<circle cx="533.5" cy="319.8" r="39.8" fill="#0f1b5e"/>
<text x="533.5" y="334.1" text-anchor="middle" font-family="Liberation Serif" font-weight="bold" font-size="43" fill="#fff" stroke="#fff" stroke-width="0.8" letter-spacing="-1" transform="translate(533.5 0) scale(1.06 1) translate(-533.5 0)">16</text>
<circle cx="720.8" cy="321.8" r="39.8" fill="#0f1b5e"/>
<text x="720.8" y="336.1" text-anchor="middle" font-family="Liberation Serif" font-weight="bold" font-size="43" fill="#fff" stroke="#fff" stroke-width="0.8" transform="translate(720.8 0) scale(1.2 1) translate(-720.8 0)">2</text>
<circle cx="904.3" cy="322.2" r="39.8" fill="#0f1b5e"/>
<text x="904.3" y="336.5" text-anchor="middle" font-family="Liberation Serif" font-weight="bold" font-size="43" fill="#fff" stroke="#fff" stroke-width="0.8" transform="translate(904.3 0) scale(1.2 1) translate(-904.3 0)">1</text>
<circle cx="1085.5" cy="323.3" r="39.8" fill="#0f1b5e"/>
<text x="1085.5" y="337.6" text-anchor="middle" font-family="Liberation Serif" font-weight="bold" font-size="43" fill="#fff" stroke="#fff" stroke-width="0.8" transform="translate(1085.5 0) scale(1.2 1) translate(-1085.5 0)">8</text>
<circle cx="1268.9" cy="323.3" r="39.8" fill="#0f1b5e"/>
<text x="1268.9" y="337.6" text-anchor="middle" font-family="Liberation Serif" font-weight="bold" font-size="43" fill="#fff" stroke="#fff" stroke-width="0.8" transform="translate(1268.9 0) scale(1.2 1) translate(-1268.9 0)">4</text>
<circle cx="1456" cy="324.2" r="39.8" fill="#0f1b5e"/>
<text x="1456" y="338.5" text-anchor="middle" font-family="Liberation Serif" font-weight="bold" font-size="43" fill="#fff" stroke="#fff" stroke-width="0.8" letter-spacing="-1" transform="translate(1456 0) scale(1.06 1) translate(-1456 0)">10</text>
<circle cx="1638" cy="322" r="39.8" fill="#0f1b5e"/>
<text x="1638" y="336.3" text-anchor="middle" font-family="Liberation Serif" font-weight="bold" font-size="43" fill="#fff" stroke="#fff" stroke-width="0.8" letter-spacing="-1" transform="translate(1638 0) scale(1.06 1) translate(-1638 0)">11</text>
<circle cx="348.3" cy="502.7" r="39.8" fill="#0f1b5e"/>
<text x="348.3" y="517.0" text-anchor="middle" font-family="Liberation Serif" font-weight="bold" font-size="43" fill="#fff" stroke="#fff" stroke-width="0.8" transform="translate(348.3 0) scale(1.2 1) translate(-348.3 0)">5</text>
<circle cx="348" cy="685.4" r="39.8" fill="#0f1b5e"/>
<text x="348" y="699.7" text-anchor="middle" font-family="Liberation Serif" font-weight="bold" font-size="43" fill="#fff" stroke="#fff" stroke-width="0.8" transform="translate(348 0) scale(1.2 1) translate(-348 0)">6</text>
<circle cx="346.7" cy="871.7" r="39.8" fill="#0f1b5e"/>
<text x="346.7" y="886.0" text-anchor="middle" font-family="Liberation Serif" font-weight="bold" font-size="43" fill="#fff" stroke="#fff" stroke-width="0.8" transform="translate(346.7 0) scale(1.2 1) translate(-346.7 0)">7</text>
<circle cx="345.6" cy="1054.7" r="39.8" fill="#0f1b5e"/>
<text x="345.6" y="1069.0" text-anchor="middle" font-family="Liberation Serif" font-weight="bold" font-size="43" fill="#fff" stroke="#fff" stroke-width="0.8" transform="translate(345.6 0) scale(1.2 1) translate(-345.6 0)">3</text>
<circle cx="1635" cy="510" r="39.8" fill="#0f1b5e"/>
<text x="1635" y="524.3" text-anchor="middle" font-family="Liberation Serif" font-weight="bold" font-size="43" fill="#fff" stroke="#fff" stroke-width="0.8" letter-spacing="-1" transform="translate(1635 0) scale(1.06 1) translate(-1635 0)">12</text>
<circle cx="1634.4" cy="691.1" r="39.8" fill="#0f1b5e"/>
<text x="1634.4" y="705.4" text-anchor="middle" font-family="Liberation Serif" font-weight="bold" font-size="43" fill="#fff" stroke="#fff" stroke-width="0.8" letter-spacing="-1" transform="translate(1634.4 0) scale(1.06 1) translate(-1634.4 0)">13</text>
<circle cx="1632.5" cy="880.5" r="39.8" fill="#0f1b5e"/>
<text x="1632.5" y="894.8" text-anchor="middle" font-family="Liberation Serif" font-weight="bold" font-size="43" fill="#fff" stroke="#fff" stroke-width="0.8" letter-spacing="-1" transform="translate(1632.5 0) scale(1.06 1) translate(-1632.5 0)">14</text>
<circle cx="1630.5" cy="1061.6" r="39.8" fill="#0f1b5e"/>
<text x="1630.5" y="1075.9" text-anchor="middle" font-family="Liberation Serif" font-weight="bold" font-size="43" fill="#fff" stroke="#fff" stroke-width="0.8" letter-spacing="-1" transform="translate(1630.5 0) scale(1.06 1) translate(-1630.5 0)">15</text>
</svg>
<div class="ln" style="left:91px;top:1201.0px"><b>OFFICIAL G.S. WALL TENTS</b></div>
<div class="ln" style="left:91px;top:1242.0px;transform:scaleX(1.0060)">The official G.S. Wall Tents have been</div>
<div class="ln" style="left:91px;top:1275.5px;transform:scaleX(1.0089)">extensively tested in national and</div>
<div class="ln" style="left:91px;top:1309.0px;transform:scaleX(1.0138)">regional camps, are approved by the</div>
<div class="ln" style="left:91px;top:1342.5px;transform:scaleX(1.0115)">Camping Division of the Girl Scouts of</div>
<div class="ln" style="left:91px;top:1376.0px;transform:scaleX(1.0078)">the U.S.A., and meet American Camping</div>
<div class="ln" style="left:91px;top:1409.4px;transform:scaleX(1.0305)">Association standards.</div>
<div class="ln" style="left:91px;top:1457.2px;transform:scaleX(1.0151)">Protection against wind stress with</div>
<div class="ln" style="left:91px;top:1490.5px;transform:scaleX(0.9721)">REINFORCEMENTS at:</div>
<div class="ln" style="left:90px;top:1531.0px;transform:scaleX(1.0174)"><b>1</b> Full length of tent ridge</div>
<div class="ln" style="left:90px;top:1571.0px;transform:scaleX(1.0114)"><b>2</b> Upright holes on fly</div>
<div class="ln" style="left:90px;top:1610.7px;transform:scaleX(1.0186)"><b>3</b> All eave corners</div>
<div class="ln" style="left:90px;top:1649.8px;transform:scaleX(1.0171)"><b>4</b> All eave grommets</div>
<div class="ln" style="left:89px;top:1690.7px;transform:scaleX(0.9734)"><b>Plus</b> REINFORCEMENTS at:</div>
<div class="ln" style="left:89px;top:1730.9px;transform:scaleX(1.0065)"><b>5</b> Peak of tent where opening and</div>
<div class="ln" style="left:89px;top:1764.5px;transform:scaleX(1.0147)">closing of flap causes stress.</div>
<div class="ln" style="left:89px;top:1810.4px;transform:scaleX(1.0245)"><b>Plus:</b></div>
<div class="ln" style="left:88px;top:1852.5px;transform:scaleX(1.0104)"><b>6</b> Extra wide flies extend 12&Prime; beyond</div>
<div class="ln" style="left:88px;top:1886.2px;transform:scaleX(1.0023)">ends and sides of tent for extra weather</div>
<div class="ln" style="left:88px;top:1917.6px;transform:scaleX(1.0300)">protection.</div>
<div class="ln" style="left:88px;top:1959.5px;transform:scaleX(1.0157)"><b>7</b> Strong plied yarn khaki army duck with</div>
<div class="ln" style="left:87px;top:1993.1px;transform:scaleX(1.0281)">extra water-repellency, mildew treatment</div>
<div class="ln" style="left:87px;top:2026.8px;transform:scaleX(1.0136)">plus flame retardant treatment.</div>
<div class="ln" style="left:87px;top:2067.0px;transform:scaleX(1.0108)"><b>8</b> Double tie tapes hold walls and ends</div>
<div class="ln" style="left:87px;top:2100.3px;transform:scaleX(1.0300)">in rolled position.</div>
<div class="ln" style="left:87px;top:2139.7px"><b>9</b> Extra grommets near edge of fly</div>
<div class="ln" style="left:88px;top:2173.0px;transform:scaleX(1.0285)">permit lashing to ridge pole</div>
<div class="ln" style="left:86px;top:2206.6px;transform:scaleX(1.0155)">to prevent wind stress.</div>
<div class="ln" style="left:86px;top:2246.8px;transform:scaleX(1.0188)"><b>10</b> Spur-type grommets give greater</div>
<div class="ln" style="left:86px;top:2279.3px;transform:scaleX(1.0194)">clamping power; lock in canvas of tent</div>
<div class="ln" style="left:85px;top:2311.8px;transform:scaleX(1.0300)">and fly.</div>
<div class="ln" style="left:718.5px;top:1202.4px;transform:scaleX(1.0315)"><b>11</b> All guy lines of long-lasting pure</div>
<div class="ln" style="left:718.5px;top:1236.5px;transform:scaleX(1.0207)">manila rope for secure fastening; rope</div>
<div class="ln" style="left:718.5px;top:1269.9px;transform:scaleX(1.0290)">does not fray or splinter.</div>
<div class="ln" style="left:718.5px;top:1310.7px;transform:scaleX(1.0247)"><b>12</b> Walls 25% to 50% higher for extra</div>
<div class="ln" style="left:718.5px;top:1344.0px;transform:scaleX(1.0247)">usable living and storage space.</div>
<div class="ln" style="left:718.5px;top:1383.0px;transform:scaleX(1.0337)"><b>13</b> Split corners overlap; include lacing</div>
<div class="ln" style="left:718.5px;top:1416.3px;transform:scaleX(1.0262)">rope to roll up walls.</div>
<div class="ln" style="left:718.5px;top:1457.1px;transform:scaleX(1.0122)"><b>14</b> Door flaps at both ends overlap 12&Prime;</div>
<div class="ln" style="left:718.5px;top:1490.4px">at the bottom and taper to 4&Prime; overlap at</div>
<div class="ln" style="left:718.5px;top:1523.8px;transform:scaleX(1.0314)">the top for double protection; double</div>
<div class="ln" style="left:718.5px;top:1557.1px;transform:scaleX(1.0185)">tie tapes inside and out.</div>
<div class="ln" style="left:718.5px;top:1598.4px;transform:scaleX(1.0097)"><b>15</b> Heaviest grade clear Douglas fir poles</div>
<div class="ln" style="left:718.5px;top:1631.7px;transform:scaleX(1.0330)">won&rsquo;t warp or splinter; Upright 1&frac34;&Prime; x</div>
<div class="ln" style="left:718.5px;top:1665.0px;transform:scaleX(1.0500)">2&frac14;&Prime;, Ridges 1&frac34;&Prime; x 3&#8541;&Prime;.</div>
<div class="ln" style="left:718.5px;top:1705.1px;transform:scaleX(1.0126)"><b>16</b> Extra long pole pins prevent flies from</div>
<div class="ln" style="left:718.5px;top:1738.1px;transform:scaleX(1.0300)">blowing off.</div>
<div class="ln" style="left:718.5px;top:1779.2px;transform:scaleX(0.9948)"><b>Long life:</b> at Edith Macy National Center</div>
<div class="ln" style="left:718.5px;top:1812.2px;transform:scaleX(1.0095)">several NES Wall Tents are still</div>
<div class="ln" style="left:718.5px;top:1846.7px">serviceable after 20 years of use; at other</div>
<div class="ln" style="left:718.5px;top:1880.0px;transform:scaleX(0.9939)">G.S. Camps, after 10 years of use.</div>
<div class="ln" style="left:718.5px;top:1920.8px;transform:scaleX(0.9952)"><b>Fabric:</b> The finest 12.65 oz. army duck</div>
<div class="ln" style="left:718.5px;top:1953.4px;transform:scaleX(1.0093)">for long life or 10.10 oz. duck where</div>
<div class="ln" style="left:718.5px;top:1986.8px;transform:scaleX(1.0250)">economy is of prime consideration.</div>
<div class="ln" style="left:718.5px;top:2026.2px"><b>Flies:</b> Preserve and insulate your tent.</div>
<div class="ln" style="left:718.5px;top:2060.6px;transform:scaleX(1.0106)">Select the fabric which best meets</div>
<div class="ln" style="left:718.5px;top:2092.9px;transform:scaleX(1.0300)">your needs:</div>
<div class="ln" style="left:1360px;top:1203.2px;transform:scaleX(1.0188)"><span class="bul"></span>for normal conditions and average use:</div>
<div class="ln" style="left:1360px;top:1236.5px;transform:scaleX(1.0074)"><i>10.10 oz. duck</i> is recommended.</div>
<div class="ln" style="left:1360px;top:1277.3px;transform:scaleX(1.0130)"><span class="bul"></span>in windy locations and for&middot;long life: <i>12.65</i></div>
<div class="ln" style="left:1360px;top:1310.7px;transform:scaleX(1.0185)"><i>oz. duck</i> is recommended.</div>
<div class="ln" style="left:1360px;top:1351.4px;transform:scaleX(1.0196)"><span class="bul"></span>if tree drippings are a problem: <i>Dupont</i></div>
<div class="ln" style="left:1360px;top:1384.1px;transform:scaleX(1.0274)"><i>Hypalon<sup>&reg;</sup> coated nylon flies</i> eliminate</div>
<div class="ln" style="left:1360px;top:1418.2px;transform:scaleX(1.0256)">rotting and mildew.</div>
<div class="ln" style="left:1360px;top:1458.2px;transform:scaleX(1.0071)"><span class="bul"></span>if hot sun is a problem: <i>aluminized</i></div>
<div class="ln" style="left:1360px;top:1491.5px;transform:scaleX(1.0169)"><i>nylon flies</i> deflect heat.</div>
<div class="ln" style="left:1360px;top:1524.9px;transform:scaleX(1.0126)"><i>NOTE:</i> Even under normal conditions,</div>
<div class="ln" style="left:1360px;top:1558.3px;transform:scaleX(1.0192)">flies need replacing several times during</div>
<div class="ln" style="left:1360px;top:1591.6px;transform:scaleX(1.0038)">the life of a tent.</div>
<div class="ln" style="left:1360px;top:1634.3px;transform:scaleX(0.9808)"><b>Erection:</b> G.S. Wall Tents should be used</div>
<div class="ln" style="left:1360px;top:1666.9px;transform:scaleX(1.0160)">on a platform with siderails in which</div>
<div class="ln" style="left:1360px;top:1700.3px;transform:scaleX(0.9974)">case, stakes are not needed. If you</div>
<div class="ln" style="left:1360px;top:1733.6px">intend to use these tents on the ground</div>
<div class="ln" style="left:1360px;top:1767.0px;transform:scaleX(1.0095)">with stakes, please specify and we will</div>
<div class="ln" style="left:1360px;top:1800.4px;transform:scaleX(1.0228)">provide you with extra-length guy</div>
<div class="ln" style="left:1360px;top:1833.7px;transform:scaleX(1.0163)">ropes and prices for wooden stakes.</div>
<div class="ln" style="left:1360px;top:1896.7px"><b>Special services and accessories:</b></div>
<div class="ln" style="left:1360px;top:1936.4px"><span class="bul"></span>If your camp has special requirements&mdash;</div>
<div class="ln" style="left:1360px;top:1969.7px;transform:scaleX(1.0100)">we will <i>custom design</i> tents to meet</div>
<div class="ln" style="left:1360px;top:2003.1px;transform:scaleX(1.0306)">your specific needs.</div>
<div class="ln" style="left:1360px;top:2045.0px"><span class="bul"></span>To help you plan, train and visualize&mdash;</div>
<div class="ln" style="left:1360px;top:2078.4px;transform:scaleX(1.0152)">we will loan you <i>miniature tents</i> table-top</div>
<div class="ln" style="left:1360px;top:2109.9px;transform:scaleX(1.0168)">size <i>free of charge.</i></div>
<div class="ln" style="left:1360px;top:2152.5px;transform:scaleX(1.0118)"><span class="bul"></span><i>Screening</i> is available should you want</div>
<div class="ln" style="left:1360px;top:2184.8px;transform:scaleX(1.0290)">it (at additional charge).</div>
<div class="ln" style="left:1360px;top:2224.1px;transform:scaleX(1.0154)"><span class="bul"></span><i>Stakes</i> are available for ground pitching</div>
<div class="ln" style="left:1360px;top:2256.3px;transform:scaleX(1.0377)">(at additional charge).</div>
<div class="ln" style="left:1360px;top:2298.2px;transform:scaleX(1.0138)"><span class="bul"></span>Tents and flies are available, upon</div>
<div class="ln" style="left:1360px;top:2330.4px;transform:scaleX(1.0084)">request, in other sizes.</div>
<div class="ln" style="left:1360px;top:2371.2px;transform:scaleX(1.0140)">Use the enclosed &lsquo;&lsquo;Request for</div>
<div class="ln" style="left:1360px;top:2404.6px;transform:scaleX(1.0247)">Quotation&rsquo;&rsquo; form for prices and further</div>
<div class="ln" style="left:1360px;top:2436.0px;transform:scaleX(0.9948)">information.</div>
<div class="ln" style="left:84px;top:2437.7px;font-size:28px;line-height:28px">2</div>
<div class="ft" style="left:139px;top:2443.3px;letter-spacing:1.1px">&reg;DuPont trademark</div>
<div class="ft" style="left:410px;top:2443.3px;letter-spacing:1.13px">&copy; 1975 by Girl Scouts of the U.S.A.</div>
<div class="ft" style="left:785.5px;top:2443.3px;letter-spacing:1.27px">Prices subject to change without notice.</div>
<svg style="position:absolute;left:1890px;top:0" width="86" height="2613"><defs><filter id="eb" x="-50%" y="-5%" width="200%" height="110%"><feGaussianBlur stdDeviation="6"/></filter><linearGradient id="eg" x1="0" x2="1" y1="0" y2="0"><stop offset="0" stop-color="#f7f1e2"/><stop offset="0.45" stop-color="#ebe3d2"/><stop offset="1" stop-color="#dcd4c3"/></linearGradient></defs><polygon points="64,-30 110,-30 110,2640 84,2640 76,2300 50,1700 44,1250 52,700 62,200" fill="url(#eg)" filter="url(#eb)"/></svg>
<div id="bot"></div>
</body></html>
